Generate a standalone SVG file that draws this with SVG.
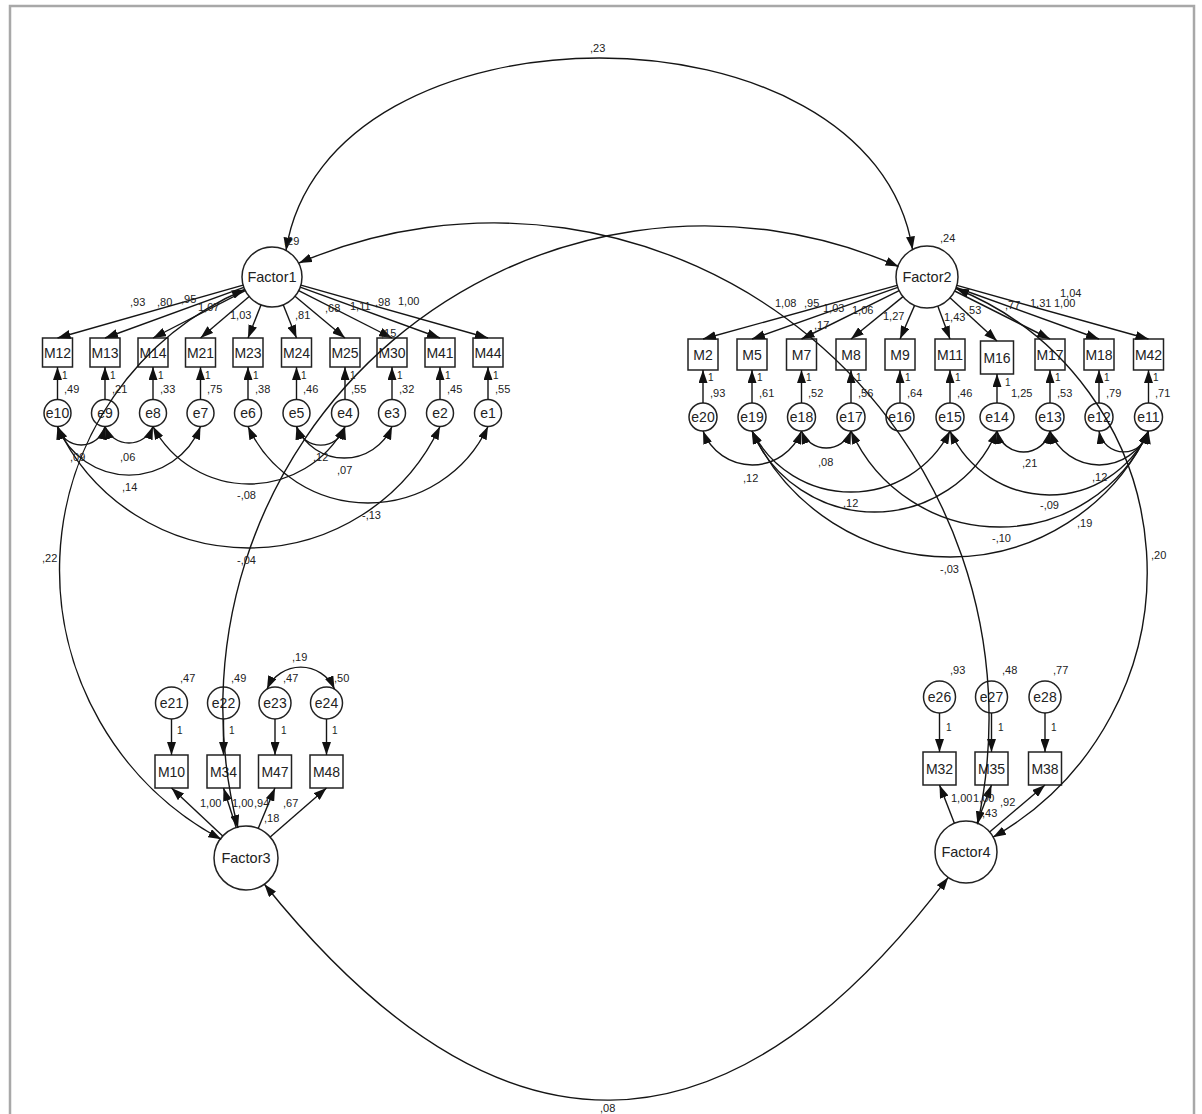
<svg xmlns="http://www.w3.org/2000/svg" width="1202" height="1114" viewBox="0 0 1202 1114">
<style>
.ln{stroke:#151515;stroke-width:1.4;fill:none}
.arr{marker-end:url(#ah)}
.cov{marker-start:url(#ah);marker-end:url(#ah)}
.bx{fill:#fff;stroke:#222;stroke-width:1.5}
.ci{fill:#fff;stroke:#222;stroke-width:1.5}
text{font-family:"Liberation Sans",Arial,sans-serif;fill:#222}
.nl{font-size:14px;text-anchor:middle}
.fl{font-size:14.5px;text-anchor:middle}
.lb{font-size:11px}
.one{font-size:10px}
</style>
<defs>
<marker id="ah" markerUnits="userSpaceOnUse" viewBox="0 0 13 9" markerWidth="13" markerHeight="9" refX="13" refY="4.5" orient="auto-start-reverse">
<path d="M0,0 L13,4.5 L0,9 z" fill="#111"/>
</marker>
</defs>
<rect x="0" y="0" width="1202" height="1114" fill="#fff"/>
<rect x="10" y="6" width="1184" height="1120" fill="#fff" stroke="#a8a8a8" stroke-width="2.5"/>

<g id="nodes-left">
<g id="Factor1"><circle class="ci" cx="272" cy="277" r="30"/><text class="fl" x="272" y="282">Factor1</text></g>
<g id="M12"><rect class="bx" x="42.5" y="338" width="30" height="29"/><text class="nl" x="57.5" y="357.5">M12</text></g>
<g id="M13"><rect class="bx" x="90" y="338" width="30" height="29"/><text class="nl" x="105" y="357.5">M13</text></g>
<g id="M14"><rect class="bx" x="138" y="338" width="30" height="29"/><text class="nl" x="153" y="357.5">M14</text></g>
<g id="M21"><rect class="bx" x="185.5" y="338" width="30" height="29"/><text class="nl" x="200.5" y="357.5">M21</text></g>
<g id="M23"><rect class="bx" x="233" y="338" width="30" height="29"/><text class="nl" x="248" y="357.5">M23</text></g>
<g id="M24"><rect class="bx" x="281.5" y="338" width="30" height="29"/><text class="nl" x="296.5" y="357.5">M24</text></g>
<g id="M25"><rect class="bx" x="330" y="338" width="30" height="29"/><text class="nl" x="345" y="357.5">M25</text></g>
<g id="M30"><rect class="bx" x="377" y="338" width="30" height="29"/><text class="nl" x="392" y="357.5">M30</text></g>
<g id="M41"><rect class="bx" x="425" y="338" width="30" height="29"/><text class="nl" x="440" y="357.5">M41</text></g>
<g id="M44"><rect class="bx" x="473" y="338" width="30" height="29"/><text class="nl" x="488" y="357.5">M44</text></g>
<g id="e10"><circle class="ci" cx="57.5" cy="413" r="13.5"/><text class="nl" x="57.5" y="418">e10</text></g>
<g id="e9"><circle class="ci" cx="105" cy="413" r="13.5"/><text class="nl" x="105" y="418">e9</text></g>
<g id="e8"><circle class="ci" cx="153" cy="413" r="13.5"/><text class="nl" x="153" y="418">e8</text></g>
<g id="e7"><circle class="ci" cx="200.5" cy="413" r="13.5"/><text class="nl" x="200.5" y="418">e7</text></g>
<g id="e6"><circle class="ci" cx="248" cy="413" r="13.5"/><text class="nl" x="248" y="418">e6</text></g>
<g id="e5"><circle class="ci" cx="296.5" cy="413" r="13.5"/><text class="nl" x="296.5" y="418">e5</text></g>
<g id="e4"><circle class="ci" cx="345" cy="413" r="13.5"/><text class="nl" x="345" y="418">e4</text></g>
<g id="e3"><circle class="ci" cx="392" cy="413" r="13.5"/><text class="nl" x="392" y="418">e3</text></g>
<g id="e2"><circle class="ci" cx="440" cy="413" r="13.5"/><text class="nl" x="440" y="418">e2</text></g>
<g id="e1"><circle class="ci" cx="488" cy="413" r="13.5"/><text class="nl" x="488" y="418">e1</text></g>
</g>

<g id="nodes-right">
<g id="Factor2"><circle class="ci" cx="927" cy="277" r="31"/><text class="fl" x="927" y="282">Factor2</text></g>
<g id="M2"><rect class="bx" x="688" y="339" width="30" height="31"/><text class="nl" x="703" y="359.5">M2</text></g>
<g id="M5"><rect class="bx" x="737" y="339" width="30" height="31"/><text class="nl" x="752" y="359.5">M5</text></g>
<g id="M7"><rect class="bx" x="786.5" y="339" width="30" height="31"/><text class="nl" x="801.5" y="359.5">M7</text></g>
<g id="M8"><rect class="bx" x="836" y="339" width="30" height="31"/><text class="nl" x="851" y="359.5">M8</text></g>
<g id="M9"><rect class="bx" x="885" y="339" width="30" height="31"/><text class="nl" x="900" y="359.5">M9</text></g>
<g id="M11"><rect class="bx" x="935" y="339" width="30" height="31"/><text class="nl" x="950" y="359.5">M11</text></g>
<g id="M16"><rect class="bx" x="980.5" y="341" width="33" height="33"/><text class="nl" x="997" y="362.5">M16</text></g>
<g id="M17"><rect class="bx" x="1035" y="339" width="30" height="31"/><text class="nl" x="1050" y="359.5">M17</text></g>
<g id="M18"><rect class="bx" x="1084" y="339" width="30" height="31"/><text class="nl" x="1099" y="359.5">M18</text></g>
<g id="M42"><rect class="bx" x="1133.5" y="339" width="30" height="31"/><text class="nl" x="1148.5" y="359.5">M42</text></g>
<g id="e20"><circle class="ci" cx="703" cy="417" r="14"/><text class="nl" x="703" y="422">e20</text></g>
<g id="e19"><circle class="ci" cx="752" cy="417" r="14"/><text class="nl" x="752" y="422">e19</text></g>
<g id="e18"><circle class="ci" cx="801.5" cy="417" r="14"/><text class="nl" x="801.5" y="422">e18</text></g>
<g id="e17"><circle class="ci" cx="851" cy="417" r="14"/><text class="nl" x="851" y="422">e17</text></g>
<g id="e16"><circle class="ci" cx="900" cy="417" r="14"/><text class="nl" x="900" y="422">e16</text></g>
<g id="e15"><circle class="ci" cx="950" cy="417" r="14"/><text class="nl" x="950" y="422">e15</text></g>
<g id="e14"><ellipse class="ci" cx="997" cy="417" rx="17" ry="14"/><text class="nl" x="997" y="422">e14</text></g>
<g id="e13"><circle class="ci" cx="1050" cy="417" r="14"/><text class="nl" x="1050" y="422">e13</text></g>
<g id="e12"><circle class="ci" cx="1099" cy="417" r="14"/><text class="nl" x="1099" y="422">e12</text></g>
<g id="e11"><circle class="ci" cx="1148.5" cy="417" r="14"/><text class="nl" x="1148.5" y="422">e11</text></g>
</g>

<g id="nodes-f3">
<g id="Factor3"><circle class="ci" cx="246" cy="858" r="32"/><text class="fl" x="246" y="863">Factor3</text></g>
<g id="M10"><rect class="bx" x="155" y="755" width="33" height="33"/><text class="nl" x="171.5" y="776.5">M10</text></g>
<g id="M34"><rect class="bx" x="207" y="755" width="33" height="33"/><text class="nl" x="223.5" y="776.5">M34</text></g>
<g id="M47"><rect class="bx" x="258.5" y="755" width="33" height="33"/><text class="nl" x="275" y="776.5">M47</text></g>
<g id="M48"><rect class="bx" x="310" y="755" width="33" height="33"/><text class="nl" x="326.5" y="776.5">M48</text></g>
<g id="e21"><circle class="ci" cx="171.5" cy="703" r="16"/><text class="nl" x="171.5" y="708">e21</text></g>
<g id="e22"><circle class="ci" cx="223.5" cy="703" r="16"/><text class="nl" x="223.5" y="708">e22</text></g>
<g id="e23"><circle class="ci" cx="275" cy="703" r="16"/><text class="nl" x="275" y="708">e23</text></g>
<g id="e24"><circle class="ci" cx="326.5" cy="703" r="16"/><text class="nl" x="326.5" y="708">e24</text></g>
</g>

<g id="nodes-f4">
<g id="Factor4"><circle class="ci" cx="966" cy="852" r="31"/><text class="fl" x="966" y="857">Factor4</text></g>
<g id="M32"><rect class="bx" x="923" y="752" width="33" height="33"/><text class="nl" x="939.5" y="773.5">M32</text></g>
<g id="M35"><rect class="bx" x="975" y="752" width="33" height="33"/><text class="nl" x="991.5" y="773.5">M35</text></g>
<g id="M38"><rect class="bx" x="1028.5" y="752" width="33" height="33"/><text class="nl" x="1045" y="773.5">M38</text></g>
<g id="e26"><circle class="ci" cx="939.5" cy="697" r="16"/><text class="nl" x="939.5" y="702">e26</text></g>
<g id="e27"><circle class="ci" cx="991.5" cy="697" r="16"/><text class="nl" x="991.5" y="702">e27</text></g>
<g id="e28"><circle class="ci" cx="1045" cy="697" r="16"/><text class="nl" x="1045" y="702">e28</text></g>
</g>

<g id="connectors">
<line class="ln arr" x1="243.1" y1="285.2" x2="57.5" y2="338"/>
<line class="ln arr" x1="243.8" y1="287.3" x2="105" y2="338"/>
<line class="ln arr" x1="245.3" y1="290.7" x2="153" y2="338"/>
<line class="ln arr" x1="249.2" y1="296.5" x2="200.5" y2="338"/>
<line class="ln arr" x1="261" y1="304.9" x2="248" y2="338"/>
<line class="ln arr" x1="283.2" y1="304.8" x2="296.5" y2="338"/>
<line class="ln arr" x1="295" y1="296.2" x2="345" y2="338"/>
<line class="ln arr" x1="298.7" y1="290.6" x2="392" y2="338"/>
<line class="ln arr" x1="300.2" y1="287.2" x2="440" y2="338"/>
<line class="ln arr" x1="300.9" y1="285.2" x2="488" y2="338"/>
<line class="ln arr" x1="897.1" y1="285.3" x2="703" y2="339"/>
<line class="ln arr" x1="897.8" y1="287.4" x2="752" y2="339"/>
<line class="ln arr" x1="899.2" y1="290.7" x2="801.5" y2="339"/>
<line class="ln arr" x1="903" y1="296.6" x2="851" y2="339"/>
<line class="ln arr" x1="914.6" y1="305.4" x2="900" y2="339"/>
<line class="ln arr" x1="937.8" y1="306.1" x2="950" y2="339"/>
<line class="ln arr" x1="950" y1="297.7" x2="997" y2="341"/>
<line class="ln arr" x1="954.7" y1="291" x2="1050" y2="339"/>
<line class="ln arr" x1="956.2" y1="287.5" x2="1099" y2="339"/>
<line class="ln arr" x1="956.9" y1="285.4" x2="1148.5" y2="339"/>
<line class="ln arr" x1="57.5" y1="399.5" x2="57.5" y2="367"/>
<line class="ln arr" x1="105" y1="399.5" x2="105" y2="367"/>
<line class="ln arr" x1="153" y1="399.5" x2="153" y2="367"/>
<line class="ln arr" x1="200.5" y1="399.5" x2="200.5" y2="367"/>
<line class="ln arr" x1="248" y1="399.5" x2="248" y2="367"/>
<line class="ln arr" x1="296.5" y1="399.5" x2="296.5" y2="367"/>
<line class="ln arr" x1="345" y1="399.5" x2="345" y2="367"/>
<line class="ln arr" x1="392" y1="399.5" x2="392" y2="367"/>
<line class="ln arr" x1="440" y1="399.5" x2="440" y2="367"/>
<line class="ln arr" x1="488" y1="399.5" x2="488" y2="367"/>
<line class="ln arr" x1="703" y1="403" x2="703" y2="370"/>
<line class="ln arr" x1="752" y1="403" x2="752" y2="370"/>
<line class="ln arr" x1="801.5" y1="403" x2="801.5" y2="370"/>
<line class="ln arr" x1="851" y1="403" x2="851" y2="370"/>
<line class="ln arr" x1="900" y1="403" x2="900" y2="370"/>
<line class="ln arr" x1="950" y1="403" x2="950" y2="370"/>
<line class="ln arr" x1="997" y1="403" x2="997" y2="374"/>
<line class="ln arr" x1="1050" y1="403" x2="1050" y2="370"/>
<line class="ln arr" x1="1099" y1="403" x2="1099" y2="370"/>
<line class="ln arr" x1="1148.5" y1="403" x2="1148.5" y2="370"/>
<line class="ln arr" x1="222.7" y1="836.1" x2="171.5" y2="788"/>
<line class="ln arr" x1="236.2" y1="827.5" x2="223.5" y2="788"/>
<line class="ln arr" x1="258.2" y1="828.4" x2="275" y2="788"/>
<line class="ln arr" x1="270.2" y1="837" x2="326.5" y2="788"/>
<line class="ln arr" x1="171.5" y1="719" x2="171.5" y2="755"/>
<line class="ln arr" x1="223.5" y1="719" x2="223.5" y2="755"/>
<line class="ln arr" x1="275" y1="719" x2="275" y2="755"/>
<line class="ln arr" x1="326.5" y1="719" x2="326.5" y2="755"/>
<path class="ln cov" d="M 267 689 A 37 37 0 0 1 334.5 689"/>
<line class="ln arr" x1="954.4" y1="823.2" x2="939.5" y2="785"/>
<line class="ln arr" x1="977" y1="823" x2="991.5" y2="785"/>
<line class="ln arr" x1="989.6" y1="832" x2="1045" y2="785"/>
<line class="ln arr" x1="939.5" y1="713" x2="939.5" y2="752"/>
<line class="ln arr" x1="991.5" y1="713" x2="991.5" y2="752"/>
<line class="ln arr" x1="1045" y1="713" x2="1045" y2="752"/>
<path class="ln cov" d="M 286 250.5 C 326 -6, 872 -6, 912.5 249.5"/>
<path class="ln cov" d="M 264.4 884.2 Q 614 1319.5 948.2 877.4"/>
<path class="ln cov" d="M 299 263 A 495 495 0 0 1 977.5 824.3"/>
<path class="ln cov" d="M 898.5 266.5 A 482 482 0 0 0 238 828"/>
<path class="ln cov" d="M 244.8 289.5 A 305 305 0 0 0 221.3 839.3"/>
<path class="ln cov" d="M 956 288.5 A 305.5 305.5 0 0 1 993 837.2"/>
<path class="ln cov" d="M 57.5 426.5 A 24.5 24.5 0 0 0 105 426.5"/>
<path class="ln cov" d="M 105 426.5 A 25.7 25.7 0 0 0 153 426.5"/>
<path class="ln cov" d="M 57.5 426.5 A 76.9 76.9 0 0 0 200.5 426.5"/>
<path class="ln cov" d="M 153 426.5 A 108.9 108.9 0 0 0 345 426.5"/>
<path class="ln cov" d="M 296.5 426.5 A 25.1 25.1 0 0 0 345 426.5"/>
<path class="ln cov" d="M 296.5 426.5 A 51.9 51.9 0 0 0 392 426.5"/>
<path class="ln cov" d="M 248 426.5 A 132.4 132.4 0 0 0 488 426.5"/>
<path class="ln cov" d="M 57.5 426.5 A 211.3 211.3 0 0 0 440 426.5"/>
<path class="ln cov" d="M 703 431 A 52.7 52.7 0 0 0 801.5 431"/>
<path class="ln cov" d="M 801.5 431 A 26.5 26.5 0 0 0 851 431"/>
<path class="ln cov" d="M 752 431 A 110.8 110.8 0 0 0 950 431"/>
<path class="ln cov" d="M 752 431 A 133.1 133.1 0 0 0 997 431"/>
<path class="ln cov" d="M 752 431 A 219 219 0 0 0 1148.5 431"/>
<path class="ln cov" d="M 851 431 A 163.2 163.2 0 0 0 1148.5 431"/>
<path class="ln cov" d="M 950 431 A 109 109 0 0 0 1148.5 431"/>
<path class="ln cov" d="M 997 431 A 27.2 27.2 0 0 0 1050 431"/>
<path class="ln cov" d="M 1050 431 A 52.7 52.7 0 0 0 1148.5 431"/>
<path class="ln cov" d="M 1099 431 A 25.1 25.1 0 0 0 1148.5 431"/>
</g>

<g id="labels">
<text class="lb" x="590" y="52">,23</text>
<text class="lb" x="600" y="1112">,08</text>
<text class="lb" x="284" y="245">,29</text>
<text class="lb" x="940" y="242">,24</text>
<text class="lb" x="42" y="562">,22</text>
<text class="lb" x="237" y="564">-,04</text>
<text class="lb" x="940" y="573">-,03</text>
<text class="lb" x="1151" y="559">,20</text>
<text class="lb" x="130" y="306">,93</text>
<text class="lb" x="157" y="306">,80</text>
<text class="lb" x="181" y="303">,95</text>
<text class="lb" x="198" y="311">1,07</text>
<text class="lb" x="230" y="319">1,03</text>
<text class="lb" x="295" y="319">,81</text>
<text class="lb" x="325" y="312">,68</text>
<text class="lb" x="350" y="310">1,11</text>
<text class="lb" x="375" y="306">,98</text>
<text class="lb" x="398" y="305">1,00</text>
<text class="lb" x="381" y="337">,15</text>
<text class="one" x="62" y="379">1</text><text class="lb" x="64" y="393">,49</text>
<text class="one" x="110" y="379">1</text><text class="lb" x="112" y="393">,21</text>
<text class="one" x="158" y="379">1</text><text class="lb" x="160" y="393">,33</text>
<text class="one" x="205" y="379">1</text><text class="lb" x="207" y="393">,75</text>
<text class="one" x="253" y="379">1</text><text class="lb" x="255" y="393">,38</text>
<text class="one" x="301" y="379">1</text><text class="lb" x="303" y="393">,46</text>
<text class="one" x="350" y="379">1</text><text class="lb" x="351" y="393">,55</text>
<text class="one" x="397" y="379">1</text><text class="lb" x="399" y="393">,32</text>
<text class="one" x="445" y="379">1</text><text class="lb" x="447" y="393">,45</text>
<text class="one" x="493" y="379">1</text><text class="lb" x="495" y="393">,55</text>
<text class="lb" x="70" y="461">,09</text>
<text class="lb" x="120" y="461">,06</text>
<text class="lb" x="122" y="491">,14</text>
<text class="lb" x="237" y="499">-,08</text>
<text class="lb" x="313" y="461">,12</text>
<text class="lb" x="337" y="474">,07</text>
<text class="lb" x="362" y="519">-,13</text>
<text class="lb" x="775" y="307">1,08</text>
<text class="lb" x="804" y="307">,95</text>
<text class="lb" x="823" y="312">1,03</text>
<text class="lb" x="852" y="314">1,06</text>
<text class="lb" x="814" y="329">,17</text>
<text class="lb" x="883" y="320">1,27</text>
<text class="lb" x="944" y="321">1,43</text>
<text class="lb" x="966" y="314">,53</text>
<text class="lb" x="1005" y="309">,77</text>
<text class="lb" x="1030" y="307">1,31</text>
<text class="lb" x="1054" y="307">1,00</text>
<text class="lb" x="1060" y="297">1,04</text>
<text class="one" x="708" y="381">1</text><text class="lb" x="710" y="397">,93</text>
<text class="one" x="757" y="381">1</text><text class="lb" x="759" y="397">,61</text>
<text class="one" x="806" y="381">1</text><text class="lb" x="808" y="397">,52</text>
<text class="one" x="856" y="381">1</text><text class="lb" x="858" y="397">,56</text>
<text class="one" x="905" y="381">1</text><text class="lb" x="907" y="397">,64</text>
<text class="one" x="955" y="381">1</text><text class="lb" x="957" y="397">,46</text>
<text class="one" x="1005" y="386">1</text><text class="lb" x="1011" y="397">1,25</text>
<text class="one" x="1055" y="381">1</text><text class="lb" x="1057" y="397">,53</text>
<text class="one" x="1104" y="381">1</text><text class="lb" x="1106" y="397">,79</text>
<text class="one" x="1153" y="381">1</text><text class="lb" x="1155" y="397">,71</text>
<text class="lb" x="743" y="482">,12</text>
<text class="lb" x="818" y="466">,08</text>
<text class="lb" x="843" y="507">,12</text>
<text class="lb" x="1022" y="467">,21</text>
<text class="lb" x="1092" y="481">,12</text>
<text class="lb" x="1040" y="509">-,09</text>
<text class="lb" x="1077" y="527">,19</text>
<text class="lb" x="992" y="542">-,10</text>
<text class="lb" x="180" y="682">,47</text>
<text class="lb" x="231" y="682">,49</text>
<text class="lb" x="283" y="682">,47</text>
<text class="lb" x="334" y="682">,50</text>
<text class="lb" x="292" y="661">,19</text>
<text class="one" x="177" y="734">1</text>
<text class="one" x="229" y="734">1</text>
<text class="one" x="281" y="734">1</text>
<text class="one" x="332" y="734">1</text>
<text class="lb" x="200" y="807">1,00</text>
<text class="lb" x="232" y="807">1,00</text>
<text class="lb" x="254" y="807">,94</text>
<text class="lb" x="264" y="822">,18</text>
<text class="lb" x="283" y="807">,67</text>
<text class="lb" x="950" y="674">,93</text>
<text class="lb" x="1002" y="674">,48</text>
<text class="lb" x="1053" y="674">,77</text>
<text class="one" x="946" y="731">1</text>
<text class="one" x="998" y="731">1</text>
<text class="one" x="1051" y="731">1</text>
<text class="lb" x="951" y="802">1,00</text>
<text class="lb" x="973" y="802">1,00</text>
<text class="lb" x="982" y="817">,43</text>
<text class="lb" x="1000" y="806">,92</text>
</g>
</svg>
